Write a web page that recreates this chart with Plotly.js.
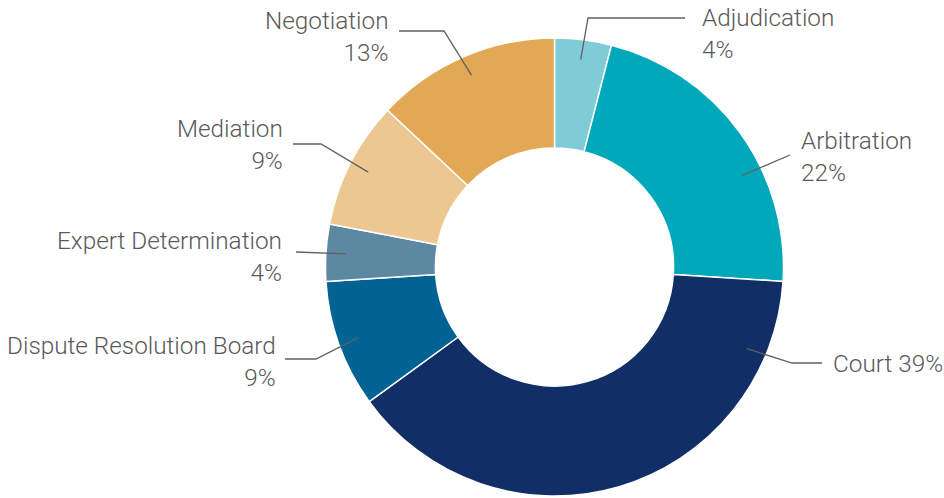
<!DOCTYPE html>
<html>
<head>
<meta charset="utf-8">
<script src="https://cdn.plot.ly/plotly-3.0.1.min.js"></script>
<style>html,body{margin:0;padding:0;background:#fff;}#chart{width:944px;height:498px;}</style>
</head>
<body>
<div id="chart"></div>
<script>
// ---- data ----
const categories = ['Adjudication', 'Arbitration', 'Court', 'Dispute Resolution Board', 'Expert Determination', 'Mediation', 'Negotiation'];
const shares = [4, 22, 39, 9, 4, 9, 13];
const colors = ['#7FCBD6', '#00A8B9', '#112F66', '#016393', '#5C88A1', '#EDC792', '#E3A856'];

// ---- label layout (pixel positions of leader elbows and label text) ----
// ang: optional override of leader start angle (deg clockwise from top)
const labelLayout = [
  {side: 'left',  ex: 588, ey: 18,  hx: 685, tx: 702, ty: 29,  oneLine: false},
  {side: 'left',  ex: 790, ey: 155, hx: 790, tx: 801, ty: 152, oneLine: false, ang: 64},
  {side: 'left',  ex: 792, ey: 363, hx: 822, tx: 833, ty: 372, oneLine: true,  ang: 113},
  {side: 'right', ex: 316, ey: 359, hx: 285, tx: 276, ty: 357, oneLine: false},
  {side: 'right', ex: 296, ey: 252, hx: 296, tx: 282, ty: 252, oneLine: false},
  {side: 'right', ex: 321, ey: 144, hx: 293, tx: 283, ty: 140, oneLine: false},
  {side: 'right', ex: 444, ey: 31,  hx: 399, tx: 389, ty: 32,  oneLine: false}
];

const W = 944, H = 498;
const cx = 554.5, cy = 267, R = 229;
const total = shares.reduce((a, b) => a + b, 0);
const textPad = 2; // annotation box padding compensation

const font = {family: 'Roboto, sans-serif', size: 24.3, color: '#595959', weight: 300};
const shapes = [];
const annotations = [];
const px = x => x / W;
const py = y => 1 - y / H;

let cum = 0;
categories.forEach((name, i) => {
  const mid = (cum + shares[i] / 2) / total * 360;
  cum += shares[i];
  const L = labelLayout[i];
  const a = (L.ang !== undefined ? L.ang : mid) * Math.PI / 180;
  const rs = R * 0.913;
  const sx = cx + rs * Math.sin(a), sy = cy - rs * Math.cos(a);
  shapes.push({
    type: 'path', xref: 'paper', yref: 'paper',
    path: `M ${px(sx)},${py(sy)} L ${px(L.ex)},${py(L.ey)} L ${px(L.hx)},${py(L.ey)}`,
    line: {color: '#606060', width: 1.3}
  });
  const pct = Math.round(shares[i] / total * 100) + '%';
  const left = L.side === 'left';
  const xanchor = left ? 'left' : 'right';
  const tx = left ? L.tx - textPad : L.tx + textPad;
  const text = L.oneLine ? name + ' ' + pct : name + '<br>' + pct;
  const yc = L.oneLine ? L.ty - 8.5 : L.ty + 4.6;
  annotations.push({xref: 'paper', yref: 'paper', x: px(tx), y: py(yc), xanchor, yanchor: 'middle',
    align: left ? 'left' : 'right', text, showarrow: false, font});
});

const trace = {
  type: 'pie',
  labels: categories,
  values: shares,
  sort: false,
  direction: 'clockwise',
  rotation: 0,
  hole: 0.52,
  textinfo: 'none',
  hoverinfo: 'skip',
  marker: {colors: colors, line: {color: '#ffffff', width: 1.5}},
  domain: {x: [(cx - R) / W, (cx + R) / W], y: [(H - cy - R) / H, (H - cy + R) / H]},
  showlegend: false
};

Plotly.newPlot('chart', [trace], {
  width: W, height: H,
  margin: {l: 0, r: 0, t: 0, b: 0},
  paper_bgcolor: '#ffffff',
  showlegend: false,
  shapes, annotations
}, {staticPlot: true, displayModeBar: false});
</script>
</body>
</html>
